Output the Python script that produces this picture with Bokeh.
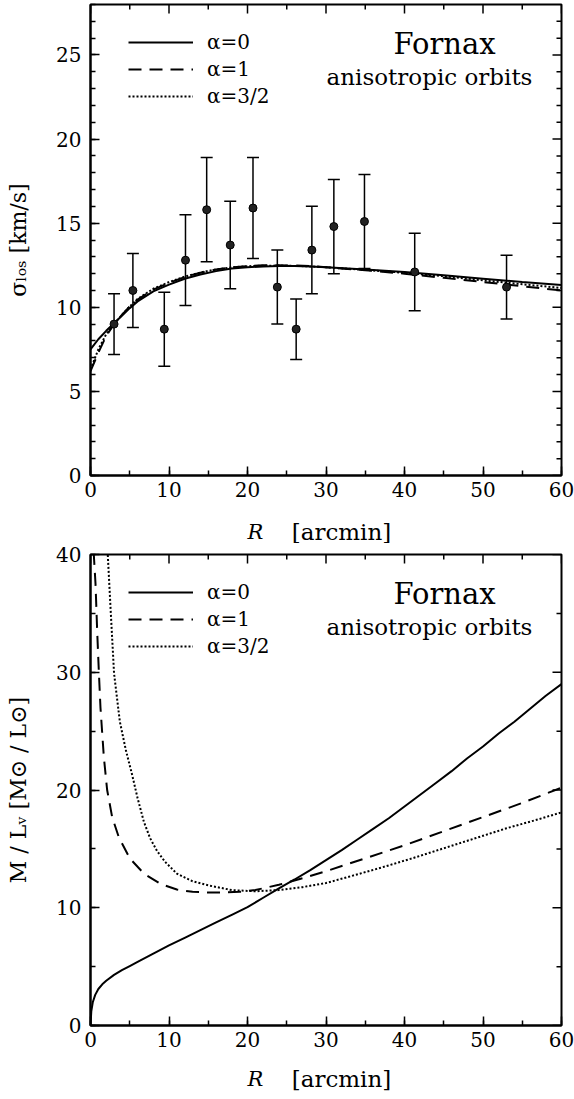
from bokeh.plotting import figure
from bokeh.models import (ColumnDataSource, Range1d, LinearAxis, SingleIntervalTicker,
                          Whisker, TeeHead, Label, Legend, LegendItem)
from bokeh.layouts import column
from bokeh.embed import file_html
from bokeh.resources import INLINE

# ---------------- data ----------------
# top panel: line-of-sight velocity dispersion data
sig_R = [3.0, 5.4, 9.4, 12.1, 14.8, 17.8, 20.7, 23.8, 26.2, 28.2, 31.0, 34.9, 41.3, 53.0]
sig_v = [9.0, 11.0, 8.7, 12.8, 15.8, 13.7, 15.9, 11.2, 8.7, 13.4, 14.8, 15.1, 12.1, 11.2]
sig_err = [1.8, 2.2, 2.2, 2.7, 3.1, 2.6, 3.0, 2.2, 1.8, 2.6, 2.8, 2.8, 2.3, 1.9]

# top panel: model curves
top_R = [0, 1, 2, 3, 4, 5, 6, 8, 10, 12, 14, 16, 18, 20, 22, 24, 26, 28, 30, 35, 40, 45, 50, 55, 60]
top_a0 = [7.5, 8.1, 8.6, 9.05, 9.5, 9.95, 10.35, 10.95, 11.35, 11.7, 11.95, 12.15, 12.3, 12.38,
          12.43, 12.45, 12.45, 12.43, 12.38, 12.25, 12.1, 11.9, 11.7, 11.5, 11.33]
top_a1 = [6.2, 7.3, 8.3, 9.0, 9.55, 10.05, 10.45, 11.05, 11.45, 11.8, 12.05, 12.25, 12.38, 12.45,
          12.5, 12.5, 12.48, 12.45, 12.38, 12.2, 12.0, 11.75, 11.5, 11.25, 11.0]
top_a32 = [6.3, 7.5, 8.4, 9.0, 9.55, 10.05, 10.5, 11.1, 11.5, 11.82, 12.07, 12.25, 12.37, 12.44,
           12.47, 12.48, 12.46, 12.43, 12.38, 12.22, 12.05, 11.85, 11.6, 11.37, 11.15]

# bottom panel: mass-to-light ratio curves
ml_R0 = [0, 0.1, 0.3, 0.6, 1, 1.5, 2, 3, 4, 5, 6, 8, 10, 12, 14, 16, 18, 20, 22, 24, 26, 28, 30,
         32, 34, 36, 38, 40, 42, 44, 46, 48, 50, 52, 54, 56, 58, 60]
ml_a0 = [0, 1.2, 2.0, 2.6, 3.1, 3.5, 3.8, 4.3, 4.7, 5.05, 5.4, 6.1, 6.8, 7.45, 8.1, 8.75, 9.4,
         10.05, 10.85, 11.65, 12.4, 13.2, 14.05, 14.9, 15.8, 16.7, 17.6, 18.6, 19.6, 20.6, 21.6,
         22.7, 23.7, 24.8, 25.8, 26.9, 28.0, 29.0]
ml_R1 = [0.35, 0.42, 0.64, 0.85, 1.06, 1.27, 1.7, 2.12, 2.76, 3.6, 5, 6.8, 9, 11, 13, 15, 17, 19,
         21, 24, 27, 30, 35, 40, 45, 50, 55, 60]
ml_a1 = [42, 40, 37.5, 33.5, 30.1, 27.0, 22.8, 20.0, 17.7, 16.0, 14.2, 12.9, 12.0, 11.55, 11.35,
         11.3, 11.3, 11.35, 11.5, 11.95, 12.5, 13.1, 14.2, 15.3, 16.5, 17.7, 18.9, 20.2]
ml_R2 = [2.1, 2.2, 2.55, 3.0, 3.74, 4.5, 5.3, 6.0, 6.8, 7.6, 8.5, 9.5, 11, 13, 15, 18, 21, 24, 27,
         30, 33, 37, 41, 45, 49, 53, 57, 60]
ml_a2 = [42, 40, 35.5, 29.9, 25.8, 23.4, 21.3, 19.3, 17.3, 15.9, 14.8, 13.9, 12.9, 12.25, 11.9,
         11.5, 11.4, 11.5, 11.75, 12.1, 12.65, 13.4, 14.2, 15.05, 15.9, 16.75, 17.5, 18.1]

legend_labels = ["α=0", "α=1", "α=3/2"]
top_ylabel = "σₗₒₛ [km/s]"
bot_ylabel = "M / Lᵥ [M⊙ / L⊙]"

# tick positions
x_major = [0, 10, 20, 30, 40, 50, 60]
x_minor = [5, 15, 25, 35, 45, 55]
top_y_major = [0, 5, 10, 15, 20, 25]
top_y_minor = [v for v in range(1, 28) if v % 5 != 0]
bot_y_major = [0, 10, 20, 30, 40]
bot_y_minor = [5, 15, 25, 35]

# ---------------- style ----------------
SERIF = "DejaVu Serif"
DASH = "13 8"
DOT = "2 2"
W = 574
FW = 471          # frame width
FH = 471          # frame height
LEFT = 90
MAJ = 9
MIN = 5
BOT = 31


def style_axis(ax):
    ax.major_tick_in = MAJ
    ax.major_tick_out = 0
    ax.minor_tick_in = MIN
    ax.minor_tick_out = 0
    ax.axis_line_width = 2
    ax.axis_line_color = "black"
    ax.major_tick_line_width = 1.5
    ax.minor_tick_line_width = 1.5
    ax.major_tick_line_color = "black"
    ax.minor_tick_line_color = "black"
    ax.major_label_text_font = SERIF
    ax.major_label_text_font_size = "20px"
    ax.major_label_text_color = "black"


def make_fig(ymax, y_interval, y_minor, y_major_list, y_minor_list, top_border, ylabel):
    p = figure(width=W, height=top_border + FH + BOT,
               x_range=Range1d(0, 60), y_range=Range1d(0, ymax),
               output_backend="svg", toolbar_location=None,
               min_border_left=LEFT, min_border_right=W - LEFT - FW,
               min_border_top=top_border, min_border_bottom=BOT,
               x_axis_type=None, y_axis_type=None)
    p.grid.visible = False
    p.outline_line_color = "black"
    p.outline_line_width = 2
    xa = LinearAxis(ticker=SingleIntervalTicker(interval=10, num_minor_ticks=2))
    style_axis(xa)
    xa.major_label_standoff = 6
    p.add_layout(xa, "below")
    ya = LinearAxis(ticker=SingleIntervalTicker(interval=y_interval, num_minor_ticks=y_minor))
    style_axis(ya)
    ya.major_label_standoff = 9
    ya.axis_label = ylabel
    ya.axis_label_text_font = SERIF
    ya.axis_label_text_font_size = "22px"
    ya.axis_label_text_font_style = "normal"
    ya.axis_label_text_color = "black"
    ya.axis_label_standoff = 22
    p.add_layout(ya, "left")
    # mirrored inward ticks on the top and right edges
    dy_maj = MAJ * ymax / FH
    dy_min = MIN * ymax / FH
    dx_maj = MAJ * 60 / FW
    dx_min = MIN * 60 / FW
    kw = dict(line_color="black", line_width=1.5)
    p.segment(x0=x_major, y0=[ymax] * len(x_major), x1=x_major,
              y1=[ymax - dy_maj] * len(x_major), **kw)
    p.segment(x0=x_minor, y0=[ymax] * len(x_minor), x1=x_minor,
              y1=[ymax - dy_min] * len(x_minor), **kw)
    p.segment(x0=[60] * len(y_major_list), y0=y_major_list, x1=[60 - dx_maj] * len(y_major_list),
              y1=y_major_list, **kw)
    p.segment(x0=[60] * len(y_minor_list), y0=y_minor_list, x1=[60 - dx_min] * len(y_minor_list),
              y1=y_minor_list, **kw)
    return p


def blank_fig(w, h):
    p = figure(width=w, height=h, x_range=Range1d(0, w), y_range=Range1d(0, h),
               output_backend="svg", toolbar_location=None,
               min_border_left=0, min_border_right=0, min_border_top=0, min_border_bottom=0,
               x_axis_type=None, y_axis_type=None)
    p.grid.visible = False
    p.outline_line_color = None
    return p


def add_label(p, text, sx, sy, size, style="normal"):
    p.add_layout(Label(x=sx, y=sy, x_units="screen", y_units="screen", text=text,
                       text_font=SERIF, text_font_size=f"{size}px", text_font_style=style,
                       text_color="black", text_align="center", text_baseline="middle"))


def add_legend(p, rends):
    items = [LegendItem(label=lab, renderers=[r]) for lab, r in zip(legend_labels, rends)]
    leg = Legend(items=items, location=(38, FH - 28 - 66 - 10), padding=0, margin=0,
                 spacing=3, glyph_width=65, glyph_height=20, label_height=20,
                 label_standoff=14, label_text_font=SERIF, label_text_font_size="20px",
                 label_text_color="black",
                 border_line_color=None, background_fill_alpha=0)
    p.add_layout(leg)


def add_titles(p):
    add_label(p, "Fornax", 354, 432, 29)
    add_label(p, "anisotropic orbits", 339, 399, 23)


def add_xlabel(p, sy):
    # the label strip's frame is aligned with the plot frames (starting at x = 90)
    add_label(p, "R", 255 - LEFT, sy, 21, style="italic")
    add_label(p, "[arcmin]", 341 - LEFT, sy, 23)


# ---------------- top panel ----------------
p1 = make_fig(28, 5, 5, top_y_major, top_y_minor, 4, top_ylabel)
r0 = p1.line(top_R, top_a0, line_width=2, line_color="black")
r1 = p1.line(top_R, top_a1, line_width=2, line_color="black", line_dash=DASH)
r2 = p1.line(top_R, top_a32, line_width=2, line_color="black", line_dash=DOT)

src = ColumnDataSource(dict(
    x=sig_R, y=sig_v,
    lo=[v - e for v, e in zip(sig_v, sig_err)],
    hi=[v + e for v, e in zip(sig_v, sig_err)]))
wh = Whisker(base="x", lower="lo", upper="hi", source=src, dimension="height",
             line_width=1.5, line_color="black",
             upper_head=TeeHead(size=12, line_width=1.5, line_color="black"),
             lower_head=TeeHead(size=12, line_width=1.5, line_color="black"))
p1.add_layout(wh)
p1.scatter("x", "y", source=src, size=8, fill_color="#222222", line_color="black", line_width=1)
add_legend(p1, [r0, r1, r2])
add_titles(p1)

XL1 = 37
xl1 = blank_fig(W, XL1)
add_xlabel(xl1, XL1 - 25)

# ---------------- bottom panel ----------------
p2 = make_fig(40, 10, 2, bot_y_major, bot_y_minor, 11, bot_ylabel)
s0 = p2.line(ml_R0, ml_a0, line_width=2, line_color="black")
s1 = p2.line(ml_R1, ml_a1, line_width=2, line_color="black", line_dash=DASH)
s2 = p2.line(ml_R2, ml_a2, line_width=2, line_color="black", line_dash=DOT)
add_legend(p2, [s0, s1, s2])
add_titles(p2)

XL2 = 40
xl2 = blank_fig(W, XL2)
add_xlabel(xl2, XL2 - 22)

layout = column(p1, xl1, p2, xl2, spacing=0)
open("out.html", "w").write(file_html(layout, INLINE))
